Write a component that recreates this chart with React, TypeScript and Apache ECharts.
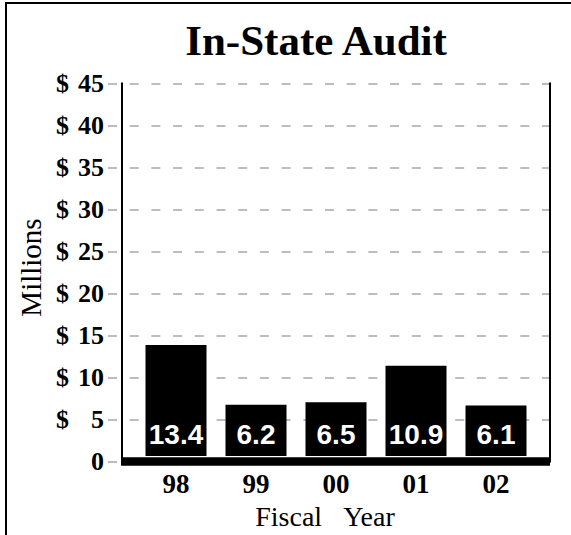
import React, { useEffect, useRef } from "react";
import * as echarts from "echarts";

const years = ["98", "99", "00", "01", "02"];
const auditMillions = [13.4, 6.2, 6.5, 10.9, 6.1];
const yMin = 0;
const yMax = 45;
const yStep = 5;
const titleText = "In-State Audit";
const yName = "Millions";
const xName = "Fiscal\u00A0\u00A0\u00A0Year";

const SERIF = "'Liberation Serif', 'Times New Roman', serif";
const SANS = "'Liberation Sans', Arial, sans-serif";

export default function App() {
  const ref = useRef<HTMLDivElement>(null);
  useEffect(() => {
    document.body.style.margin = "0";
    if (!ref.current) return;
    const chart = echarts.init(ref.current, null, { renderer: "svg" });
    const top = 83.3;
    const bottom = 73.3;
    chart.setOption({
      animation: false,
      backgroundColor: "#ffffff",
      title: {
        text: titleText,
        left: 311,
        top: 14,
        textAlign: "center",
        textStyle: { fontFamily: SERIF, fontWeight: "bold", fontSize: 43, color: "#000" },
      },
      graphic: [
        {
          type: "rect",
          shape: { x: 6, y: 3, width: 700, height: 700 },
          style: { fill: "none", stroke: "#000", lineWidth: 2 },
          silent: true,
          z: 100,
        },
      ],
      grid: [
        { left: 108, right: 21, top, bottom },
        { left: 121, right: 21, top, bottom },
        { left: 136, right: 35, top, bottom },
      ],
      xAxis: [
        { gridIndex: 0, type: "value", show: false, min: 0, max: 1 },
        {
          gridIndex: 1,
          type: "value",
          min: 0,
          max: 1,
          position: "bottom",
          offset: 4.2,
          axisLine: { show: true, lineStyle: { color: "#000", width: 8.5, cap: "butt" } },
          axisTick: { show: false },
          axisLabel: { show: false },
          splitLine: { show: false },
        },
        {
          gridIndex: 2,
          type: "category",
          data: years,
          axisLine: { show: false },
          axisTick: { show: false },
          axisLabel: {
            margin: 14,
            fontFamily: SERIF,
            fontWeight: "bold",
            fontSize: 27,
            color: "#000",
          },
          name: xName,
          nameLocation: "middle",
          nameGap: 33,
          nameTextStyle: {
            fontFamily: SERIF,
            fontSize: 28,
            color: "#000",
            padding: [0, 22, 0, 0],
          },
        },
      ],
      yAxis: [
        {
          gridIndex: 0,
          type: "value",
          min: yMin,
          max: yMax,
          interval: yStep,
          offset: -14,
          axisLine: { show: true, lineStyle: { color: "#000", width: 2 } },
          axisTick: { show: false },
          splitLine: {
            show: true,
            lineStyle: { color: "#bdbdbd", width: 2, type: [9, 12.7] },
          },
          axisLabel: {
            margin: 18,
            formatter: (v: number) => (v === 0 ? "{n|0}" : "{d|$}{n|" + v + "}"),
            rich: {
              d: { fontFamily: SERIF, fontWeight: "bold", fontSize: 26, color: "#000" },
              n: {
                fontFamily: SERIF,
                fontWeight: "bold",
                fontSize: 26,
                color: "#000",
                width: 35,
                align: "right",
              },
            },
          },
          name: yName,
          nameLocation: "middle",
          nameGap: 71,
          nameRotate: 90,
          nameTextStyle: {
            fontFamily: SERIF,
            fontSize: 29,
            color: "#000",
            padding: [0, 0, 0, 10],
          },
        },
        {
          gridIndex: 0,
          type: "value",
          min: yMin,
          max: yMax,
          position: "right",
          axisLine: { show: true, lineStyle: { color: "#000", width: 2 } },
          axisTick: { show: false },
          axisLabel: { show: false },
          splitLine: { show: false },
        },
        { gridIndex: 1, type: "value", min: yMin, max: yMax, show: false },
        { gridIndex: 2, type: "value", min: yMin, max: yMax, show: false },
      ],
      series: [
        {
          type: "bar",
          xAxisIndex: 2,
          yAxisIndex: 3,
          data: auditMillions,
          barWidth: 61,
          itemStyle: { color: "#000" },
          z: 3,
          label: {
            show: true,
            position: "insideBottom",
            distance: 8,
            formatter: (p: any) => Number(p.value).toFixed(1),
            fontFamily: SANS,
            fontWeight: "bold",
            fontSize: 28,
            color: "#fff",
          },
        },
      ],
    });
    return () => chart.dispose();
  }, []);
  return <div ref={ref} style={{ width: 571, height: 535 }} />;
}
